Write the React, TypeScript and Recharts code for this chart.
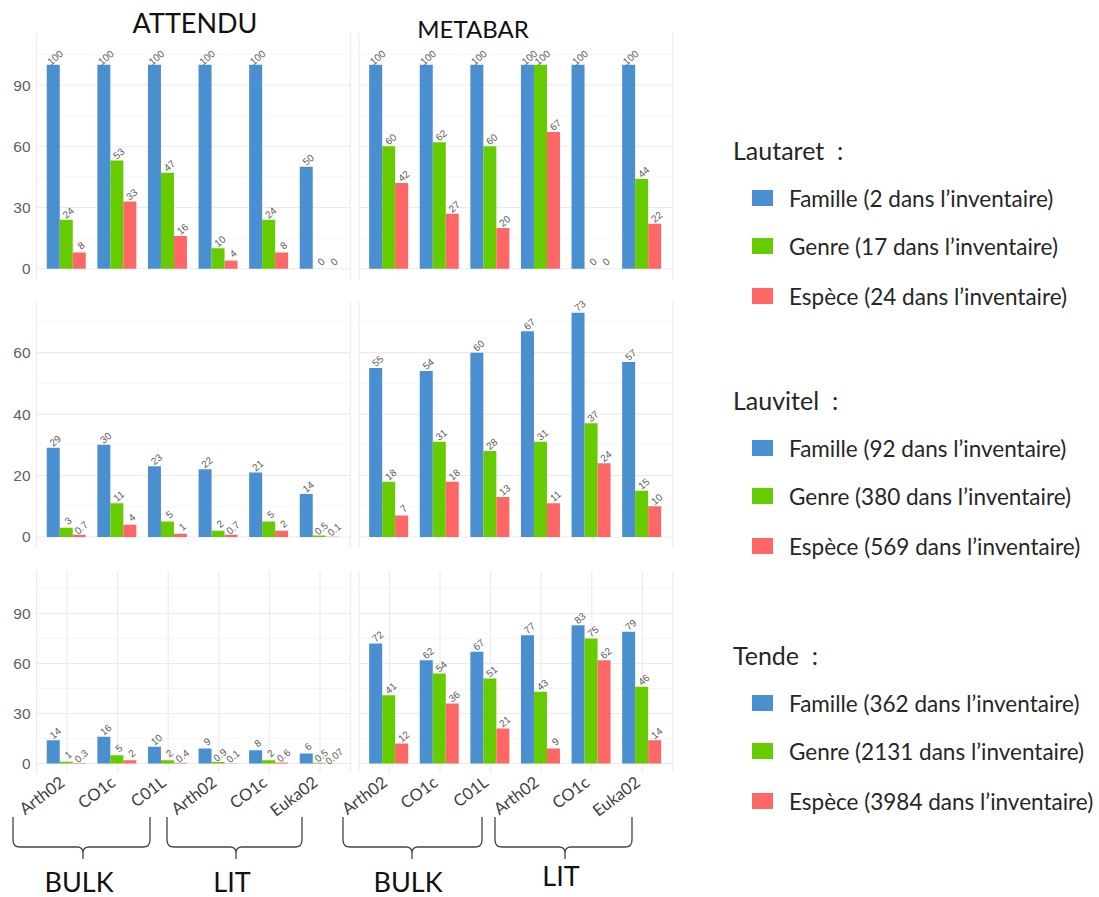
import { Bar, BarChart, CartesianGrid, LabelList, XAxis, YAxis } from "recharts";

// markers on the x axis: three BULK, three LIT
const markerIds = ["bulk-arth02", "bulk-co1c", "bulk-c01l", "lit-arth02", "lit-co1c", "lit-euka02"];
const markerNames = ["Arth02", "CO1c", "C01L", "Arth02", "CO1c", "Euka02"];

// Lautaret (% of inventory detected)
const lautaretAttenduFamille = [100, 100, 100, 100, 100, 50];
const lautaretAttenduGenre = [24, 53, 47, 10, 24, 0];
const lautaretAttenduEspece = [8, 33, 16, 4, 8, 0];
const lautaretMetabarFamille = [100, 100, 100, 100, 100, 100];
const lautaretMetabarGenre = [60, 62, 60, 100, 0, 44];
const lautaretMetabarEspece = [42, 27, 20, 67, 0, 22];

// Lauvitel
const lauvitelAttenduFamille = [29, 30, 23, 22, 21, 14];
const lauvitelAttenduGenre = [3, 11, 5, 2, 5, 0.5];
const lauvitelAttenduEspece = [0.7, 4, 1, 0.7, 2, 0.1];
const lauvitelMetabarFamille = [55, 54, 60, 67, 73, 57];
const lauvitelMetabarGenre = [18, 31, 28, 31, 37, 15];
const lauvitelMetabarEspece = [7, 18, 13, 11, 24, 10];

// Tende
const tendeAttenduFamille = [14, 16, 10, 9, 8, 6];
const tendeAttenduGenre = [1, 5, 2, 0.9, 2, 0.5];
const tendeAttenduEspece = [0.3, 2, 0.4, 0.1, 0.6, 0.07];
const tendeMetabarFamille = [72, 62, 67, 77, 83, 79];
const tendeMetabarGenre = [41, 54, 51, 43, 75, 46];
const tendeMetabarEspece = [12, 36, 21, 9, 62, 14];

// y scales per row
const majorTicks100 = [0, 30, 60, 90];
const minorTicks100 = [15, 45, 75, 105];
const majorTicks70 = [0, 20, 40, 60];
const minorTicks70 = [10, 30, 50, 70];

// legend
const sites = ["Lautaret", "Lauvitel", "Tende"];
const inventaireFamille = [2, 92, 362];
const inventaireGenre = [17, 380, 2131];
const inventaireEspece = [24, 569, 3984];

const BLUE = "#4a8fcf";
const GREEN = "#66cc00";
const RED = "#ff6666";
const PPT_FONT = "Lato, 'Open Sans', sans-serif";
const GG_FONT = "'Liberation Sans', Arial, sans-serif";

function buildRows(famille: number[], genre: number[], espece: number[]) {
  return markerIds.map((id, i) => ({
    id,
    name: markerNames[i],
    famille: famille[i],
    genre: genre[i],
    espece: espece[i],
  }));
}

// keep zero-valued bars in the layout (invisible) so their "0" label still shows
const keepZero = (value: any) => (Number(value) === 0 ? 0.01 : 0);

function ValueLabel(props: any) {
  const { x, y, width, value } = props;
  const cx = Number(x) + Number(width) / 2 + 2;
  const cy = Number(y) - 7;
  return (
    <text
      x={cx}
      y={cy}
      textAnchor="middle"
      dominantBaseline="central"
      fontSize={10}
      fontFamily={GG_FONT}
      fill="#5a5a5a"
      transform={`rotate(-40 ${cx} ${cy})`}
    >
      {value}
    </text>
  );
}

function MarkerTick(props: any) {
  const { x, y, index } = props;
  const ax = x - 1;
  const ay = y + 4;
  return (
    <text
      x={ax}
      y={ay}
      textAnchor="end"
      fontSize={16.5}
      fontFamily={PPT_FONT}
      fill="#404040"
      transform={`rotate(-37 ${ax} ${ay})`}
    >
      {markerNames[index]}
    </text>
  );
}

interface PanelProps {
  data: ReturnType<typeof buildRows>;
  left: number;
  top: number;
  plotHeight: number;
  domain: [number, number];
  major: number[];
  minor: number[];
  withYAxis: boolean;
  withXAxis: boolean;
}

const PLOT_WIDTH = 313.8;
const YAXIS_WIDTH = 36.6;
const XAXIS_HEIGHT = 40;

function Panel({ data, left, top, plotHeight, domain, major, minor, withYAxis, withXAxis }: PanelProps) {
  const width = PLOT_WIDTH + (withYAxis ? YAXIS_WIDTH : 0);
  const height = plotHeight + (withXAxis ? XAXIS_HEIGHT : 0);
  return (
    <div style={{ position: "absolute", left: left - (withYAxis ? YAXIS_WIDTH : 0), top }}>
      <BarChart
        width={width}
        height={height}
        data={data}
        margin={{ top: 0, right: 0, bottom: 0, left: 0 }}
        barCategoryGap="10%"
        barGap={0}
      >
        <CartesianGrid horizontalValues={minor} vertical={false} stroke="#f0f0f0" strokeWidth={0.6} />
        <CartesianGrid horizontalValues={major} stroke="#ebebeb" strokeWidth={1.1} />
        <XAxis
          dataKey="id"
          padding={{ left: 5.1, right: 5.1 }}
          axisLine={false}
          tickLine={false}
          height={withXAxis ? XAXIS_HEIGHT : 0}
          tick={withXAxis ? <MarkerTick /> : false}
          interval={0}
        />
        <YAxis
          type="number"
          domain={domain}
          ticks={major}
          hide={!withYAxis}
          width={withYAxis ? YAXIS_WIDTH : 0}
          axisLine={false}
          tickLine={false}
          tickSize={0}
          tickMargin={6}
          allowDataOverflow
          tick={{ fontSize: 15.5, fill: "#5f5f5f", fontFamily: GG_FONT }}
        />
        <Bar dataKey="famille" fill={BLUE} minPointSize={keepZero} isAnimationActive={false}>
          <LabelList dataKey="famille" content={<ValueLabel />} />
        </Bar>
        <Bar dataKey="genre" fill={GREEN} minPointSize={keepZero} isAnimationActive={false}>
          <LabelList dataKey="genre" content={<ValueLabel />} />
        </Bar>
        <Bar dataKey="espece" fill={RED} minPointSize={keepZero} isAnimationActive={false}>
          <LabelList dataKey="espece" content={<ValueLabel />} />
        </Bar>
      </BarChart>
    </div>
  );
}

// curly brace under a group of markers
function bracePath(x1: number, x2: number, xm: number) {
  const yTop = 817;
  const yLine = 847;
  const yTip = 859;
  const r = 7;
  return [
    `M ${x1} ${yTop} L ${x1} ${yLine - r} Q ${x1} ${yLine} ${x1 + r} ${yLine}`,
    `L ${xm - 6} ${yLine} Q ${xm} ${yLine} ${xm} ${yLine + 6} L ${xm} ${yTip}`,
    `M ${xm} ${yLine + 6} Q ${xm} ${yLine} ${xm + 6} ${yLine}`,
    `L ${x2 - r} ${yLine} Q ${x2} ${yLine} ${x2} ${yLine - r} L ${x2} ${yTop}`,
  ].join(" ");
}

const LEFT_COL = 36.6;
const RIGHT_COL = 358.6;

export default function App() {
  const rowLayout = [
    { top: 33, plotHeight: 247, domain: [-5.5, 115.5] as [number, number], major: majorTicks100, minor: minorTicks100 },
    { top: 302.1, plotHeight: 246.3, domain: [-3.7, 76.5] as [number, number], major: majorTicks70, minor: minorTicks70 },
    { top: 570.5, plotHeight: 201.7, domain: [-5.5, 115.5] as [number, number], major: majorTicks100, minor: minorTicks100 },
  ];
  const attendu = [
    buildRows(lautaretAttenduFamille, lautaretAttenduGenre, lautaretAttenduEspece),
    buildRows(lauvitelAttenduFamille, lauvitelAttenduGenre, lauvitelAttenduEspece),
    buildRows(tendeAttenduFamille, tendeAttenduGenre, tendeAttenduEspece),
  ];
  const metabar = [
    buildRows(lautaretMetabarFamille, lautaretMetabarGenre, lautaretMetabarEspece),
    buildRows(lauvitelMetabarFamille, lauvitelMetabarGenre, lauvitelMetabarEspece),
    buildRows(tendeMetabarFamille, tendeMetabarGenre, tendeMetabarEspece),
  ];
  const legendTops = [150, 400, 655];
  const itemOffsets = [48, 96, 146];
  const braces = [
    { x1: 13, x2: 150, xm: 83, label: "BULK", ly: 881 },
    { x1: 167, x2: 302, xm: 236, label: "LIT", ly: 881 },
    { x1: 343, x2: 482, xm: 412, label: "BULK", ly: 881 },
    { x1: 495, x2: 632, xm: 565, label: "LIT", ly: 875 },
  ];

  return (
    <div style={{ position: "absolute", left: 0, top: 0, width: 1099, height: 897, background: "#fff", overflow: "hidden" }}>
      <style>{`.recharts-wrapper svg, .recharts-surface { overflow: visible; }`}</style>
      {rowLayout.map((row, r) => (
        <div key={r}>
          <Panel data={attendu[r]} left={LEFT_COL} {...row} withYAxis withXAxis={r === 2} />
          <Panel data={metabar[r]} left={RIGHT_COL} {...row} withYAxis={false} withXAxis={r === 2} />
        </div>
      ))}
      <svg width={1099} height={897} style={{ position: "absolute", left: 0, top: 0, pointerEvents: "none" }}>
        <text x={195} y={22} textAnchor="middle" dominantBaseline="central" fontFamily={PPT_FONT} fontSize={27} fill="#111">
          ATTENDU
        </text>
        <text x={473} y={28} textAnchor="middle" dominantBaseline="central" fontFamily={PPT_FONT} fontSize={24} fill="#111">
          METABAR
        </text>

        {braces.map((b, i) => (
          <g key={i}>
            <path d={bracePath(b.x1, b.x2, b.xm)} fill="none" stroke="#444" strokeWidth={1.3} />
            <text x={b.xm - 4} y={b.ly} textAnchor="middle" dominantBaseline="central" fontFamily={PPT_FONT} fontSize={27} fill="#111">
              {b.label}
            </text>
          </g>
        ))}

        {sites.map((site, i) => {
          const top = legendTops[i];
          const items = [
            { color: BLUE, text: `Famille (${inventaireFamille[i]} dans l’inventaire)` },
            { color: GREEN, text: `Genre (${inventaireGenre[i]} dans l’inventaire)` },
            { color: RED, text: `Espèce (${inventaireEspece[i]} dans l’inventaire)` },
          ];
          return (
            <g key={site}>
              <text x={733} y={top} dominantBaseline="central" fontFamily={PPT_FONT} fontSize={25} fill="#262626">
                {`${site}\u00a0\u00a0:`}
              </text>
              {items.map((it, j) => (
                <g key={j}>
                  <rect x={752} y={top + itemOffsets[j] - 8} width={21} height={16} fill={it.color} />
                  <text x={789} y={top + itemOffsets[j]} dominantBaseline="central" fontFamily={PPT_FONT} fontSize={22.5} fill="#262626">
                    {it.text}
                  </text>
                </g>
              ))}
            </g>
          );
        })}
      </svg>
    </div>
  );
}
